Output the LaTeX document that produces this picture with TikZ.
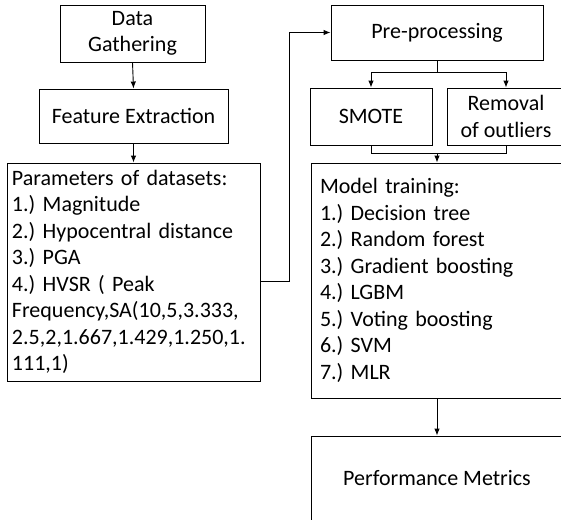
\documentclass[tikz,border=0pt]{standalone}
\usepackage{fontspec}
\setmainfont{Carlito}
\usetikzlibrary{arrows.meta}
\frenchspacing
\begin{document}
\begin{tikzpicture}[x=1pt,y=-1pt,
  box/.style={draw=black, line width=0.9pt, inner sep=0pt, font=\fontsize{22}{26.5}\selectfont\frenchspacing, align=center},
  listbox/.style={box, align=left, inner ysep=0pt},
  arr/.style={line width=0.9pt, -{Latex[length=7pt,width=5.5pt]}},
  ln/.style={line width=0.9pt}]
\useasboundingbox (0,0) rectangle (561,519);
\clip (0,0) rectangle (561,519);
% left column
\node[box, minimum width=145pt, minimum height=57pt] (dg) at (132.5,33.5) {Data\\Gathering};
\node[box, minimum width=189pt, minimum height=54pt] (fe) at (133.5,116) {Feature Extraction};
\node[listbox, text width=243pt, inner xsep=5pt, minimum height=218pt] (params) at (133.5,272)
  {Parameters of datasets:\\
   1.) Magnitude\\
   2.) Hypocentral distance\\
   3.) PGA\\
   4.) HVSR ( Peak\\
   Frequency,SA(10,5,3.333,\\
   2.5,2,1.667,1.429,1.250,1.\\
   111,1)};
% right column
\node[box, minimum width=212pt, minimum height=55pt] (pre) at (437,32.5) {Pre-processing};
\node[box, minimum width=122pt, minimum height=57pt] (smote) at (371,116.5) {SMOTE};
\node[box, minimum width=118pt, minimum height=57pt] (rem) at (506,116.5) {Removal\\of outliers};
\node[listbox, text width=234pt, inner xsep=9pt, minimum height=235pt] (mt) at (437,280.5)
  {Model training:\\
   1.) Decision tree\\
   2.) Random forest\\
   3.) Gradient boosting\\
   4.) LGBM\\
   5.) Voting boosting\\
   6.) SVM\\
   7.) MLR};
\node[box, minimum width=252pt, minimum height=84pt] (pm) at (437,478) {Performance Metrics};
% connectors
\coordinate (c1) at (289,281);
\coordinate (split) at (437,72);
\coordinate (join) at (437,153);
\draw[arr] (dg.south) -- (fe.north);
\draw[arr] (fe.south) -- (params.north);
\draw[arr] (params.east |- c1) -- (c1) |- (pre.west);
\draw[ln] (pre.south) -- (split);
\draw[arr] (split) -| (smote.north);
\draw[arr] (split) -| (rem.north);
\draw[ln] (smote.south) |- (join);
\draw[ln] (rem.south) |- (join);
\draw[arr] (join) -- (mt.north);
\draw[arr] (mt.south) -- (pm.north);
\end{tikzpicture}
\end{document}
